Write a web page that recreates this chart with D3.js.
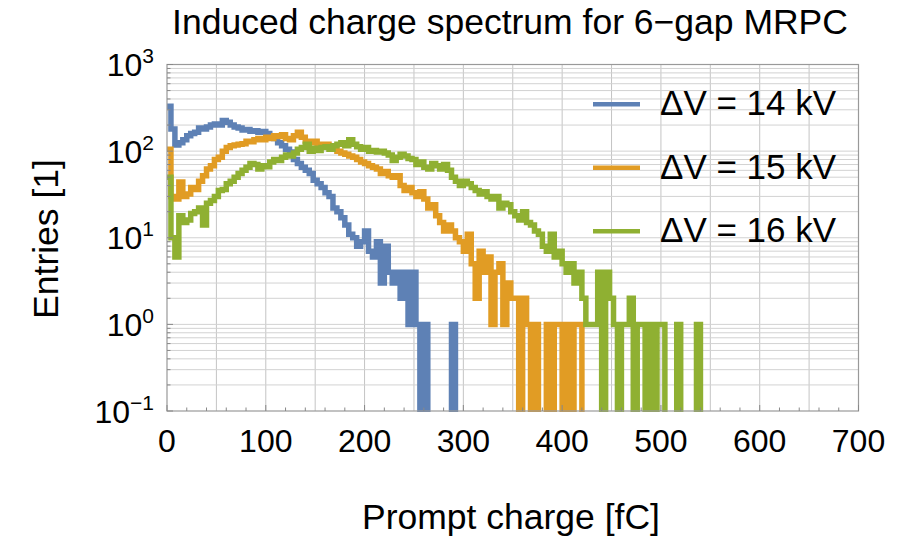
<!DOCTYPE html>
<html><head><meta charset="utf-8">
<script src="https://cdn.jsdelivr.net/npm/d3@7/dist/d3.min.js"></script>
<style>
body{margin:0;background:#fff;}
svg{display:block;}
text{font-family:"Liberation Sans",Arial,Helvetica,sans-serif;fill:#000;}
</style>
</head><body>
<svg id="chart" width="902" height="536"></svg>
<script>
// ---------------- data ----------------
const binWidth = 4; // fC per histogram bin, bins start at 0
const counts14 = [330,180,118,125,135,150,160,165,185,180,
  190,200,205,200,225,215,200,190,185,175,
  178,170,172,165,168,160,145,140,125,115,
  105,98,80,72,65,60,55,46,42,38,
  33,30,22,20,17,14,11,10,8,9,
  12,7,6,9,3,8,4,3,4,2,
  4,1,4,1,0,1,0,0,0,0,
  0,0,1,0];
const counts15 = [105,30,28,44,30,32,38,36,45,52,
  62,68,80,85,100,110,115,118,120,122,
  130,128,135,140,135,145,140,150,148,155,
  140,135,150,165,145,130,125,130,120,118,
  120,112,108,100,95,92,88,85,80,75,
  72,68,65,62,55,58,52,50,52,40,
  35,38,33,30,34,28,22,24,18,15,
  12,14,12,10,9,7,11,5,2,7,
  4,6,1,4,5,1,3,2,2,0,
  2,1,0,1,0,0,1,0,1,1,
  0,1,0,1,1,0,0];
const counts16 = [50,10,6,18,15,16,19,20,22,14,
  25,27,30,35,36,42,45,50,55,60,
  65,72,70,62,68,66,75,80,78,85,
  90,88,95,105,110,120,100,108,102,110,
  112,105,115,120,125,115,135,120,112,105,
  110,100,102,98,100,95,90,78,85,92,
  88,82,80,70,75,65,62,72,68,62,
  70,60,50,45,40,45,42,38,35,32,
  34,30,28,30,22,25,24,20,18,16,
  20,15,14,12,11,8,7,11,6,7,
  5,4,5,3,4,2,1,1,1,4,
  0,4,2,1,0,1,1,2,0,1,
  1,0,1,0,1,1,0,0,0,1,
  0,0,0,0,1,0];
const seriesLabels = ["ΔV = 14 kV", "ΔV = 15 kV", "ΔV = 16 kV"];
const seriesColors = ["#5E81B5", "#E19C24", "#8FB032"];
const xTickValues = [0,100,200,300,400,500,600,700];
const yTickExponents = [-1,0,1,2,3];
const titleText = "Induced charge spectrum for 6\u2212gap MRPC";
const xLabelText = "Prompt charge [fC]";
const yLabelText = "Entries [1]";

// ---------------- layout ----------------
const L = 167, R = 858.5, T = 64.5, B = 411;
const svg = d3.select("#chart");
const x = d3.scaleLinear().domain([0,700]).range([L,R]);
const y = d3.scaleLog().domain([0.1,1000]).range([B,T]);

// grid
const grid = svg.append("g");
const vGrid = d3.range(50,700,50);
grid.selectAll("line.v").data(vGrid).enter().append("line")
  .attr("x1",d=>x(d)).attr("x2",d=>x(d)).attr("y1",T).attr("y2",B)
  .attr("stroke","#c4c4c4").attr("stroke-width",1);
const hGrid = [];
yTickExponents.forEach(e=>{ for(let k=1;k<=9;k++){ const v=k*Math.pow(10,e); if(v>0.1 && v<1000) hGrid.push(v);} });
grid.selectAll("line.h").data(hGrid).enter().append("line")
  .attr("x1",L).attr("x2",R).attr("y1",d=>y(d)).attr("y2",d=>y(d))
  .attr("stroke","#d2d2d2").attr("stroke-width",1);

// clip
svg.append("clipPath").attr("id","plotclip").append("rect")
  .attr("x",L-2.5).attr("y",T).attr("width",R-L+2.5).attr("height",B-T+1);

// series
function stepPoints(counts){
  const pts=[];
  counts.forEach((c,i)=>{ pts.push([i*binWidth,c]); pts.push([(i+1)*binWidth,c]); });
  return pts;
}
const line = d3.line().x(d=>x(d[0])).y(d=>d[1]>0 ? y(d[1]) : B+20);
const plot = svg.append("g").attr("clip-path","url(#plotclip)");
[counts14,counts15,counts16].forEach((c,i)=>{
  plot.append("path").datum(stepPoints(c)).attr("d",line)
    .attr("fill","none").attr("stroke",seriesColors[i])
    .attr("stroke-width",5.5).attr("stroke-linejoin","miter");
});

// frame
svg.append("rect").attr("x",L).attr("y",T).attr("width",R-L).attr("height",B-T)
  .attr("fill","none").attr("stroke","#999").attr("stroke-width",1.2);

// ticks
const ticks = svg.append("g").attr("stroke","#888").attr("stroke-width",1);
d3.range(0,701,20).forEach(v=>{
  const len = (v%100===0)?6:3.5;
  ticks.append("line").attr("x1",x(v)).attr("x2",x(v)).attr("y1",B).attr("y2",B-len);
});
yTickExponents.forEach(e=>{
  for(let k=1;k<=9;k++){
    const v=k*Math.pow(10,e); if(v>1000) continue;
    const len=(k===1)?6:3.5;
    ticks.append("line").attr("x1",L).attr("x2",L+len).attr("y1",y(v)).attr("y2",y(v));
  }
});

// x tick labels
svg.selectAll("text.xt").data(xTickValues).enter().append("text")
  .attr("x",d=>x(d)).attr("y",452).attr("text-anchor","middle")
  .style("font-size","32px").text(d=>d);

// y tick labels
yTickExponents.forEach(e=>{
  const t = svg.append("text").attr("x",154).attr("y",y(Math.pow(10,e))+11.5)
    .attr("text-anchor","end").style("font-size","32px");
  t.append("tspan").text("10");
  t.append("tspan").attr("dy",-13).style("font-size","21px").text(e<0 ? "\u2212"+Math.abs(e) : String(e));
});

// title & labels
svg.append("text").attr("x",510).attr("y",34).attr("text-anchor","middle")
  .style("font-size","35.5px").text(titleText);
svg.append("text").attr("x",511).attr("y",529).attr("text-anchor","middle")
  .style("font-size","35.5px").text(xLabelText);
svg.append("text").attr("transform","translate(58,239) rotate(-90)").attr("text-anchor","middle")
  .style("font-size","35.5px").text(yLabelText);

// legend
const legY = [104.3,167.8,231.3];
seriesLabels.forEach((lab,i)=>{
  svg.append("line").attr("x1",593).attr("x2",640).attr("y1",legY[i]).attr("y2",legY[i])
    .attr("stroke",seriesColors[i]).attr("stroke-width",4.5);
  svg.append("text").attr("x",660).attr("y",legY[i]+10.7).style("font-size","35px").text(lab);
});
</script>
</body></html>
